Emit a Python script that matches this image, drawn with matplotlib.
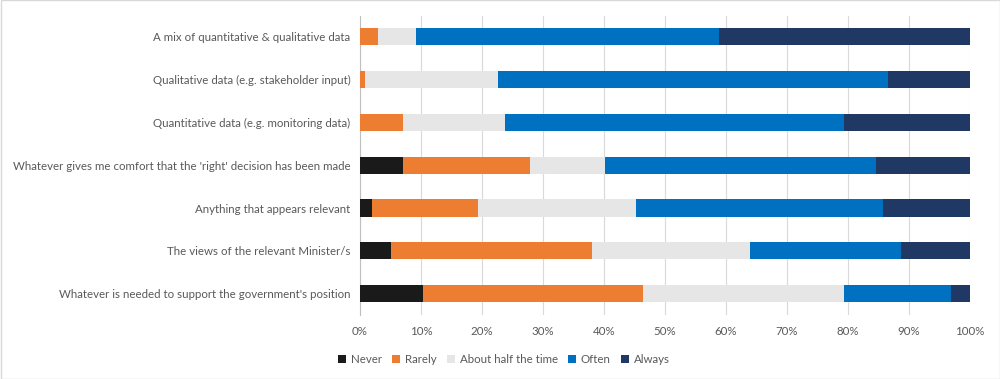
import numpy as np
import matplotlib
matplotlib.use("Agg")
from matplotlib import pyplot as plt
from matplotlib.patches import Rectangle

categories = [
    "A mix of quantitative & qualitative data",
    "Qualitative data (e.g. stakeholder input)",
    "Quantitative data (e.g. monitoring data)",
    "Whatever gives me comfort that the 'right' decision has been made",
    "Anything that appears relevant",
    "The views of the relevant Minister/s",
    "Whatever is needed to support the government's position",
]
series_names = ["Never", "Rarely", "About half the time", "Often", "Always"]

never = [0.0, 0.0, 0.0, 7.1, 1.9, 5.1, 10.3]
rarely = [3.0, 0.9, 7.1, 20.7, 17.5, 33.0, 36.1]
half = [6.2, 21.7, 16.6, 12.3, 25.9, 25.8, 33.0]
often = [49.6, 63.9, 55.7, 44.5, 40.4, 24.8, 17.5]
always = [41.2, 13.5, 20.6, 15.4, 14.3, 11.3, 3.1]

colors = ["#1a1a1a", "#ED7D31", "#E6E6E6", "#0070C0", "#203864"]

plt.rcParams['font.family'] = ['Lato', 'DejaVu Sans']

fig = plt.figure(figsize=(10, 3.79), dpi=100)
ax = fig.add_axes([0.36, 0.169, 0.61, 0.79])

y = np.arange(len(categories))
left = np.zeros(len(categories))
for name, vals, c in zip(series_names, [never, rarely, half, often, always], colors):
    vals = np.array(vals)
    ax.barh(y, vals, left=left, height=0.4, color=c, label=name, zorder=3)
    left += vals

ax.set_xlim(0, 100)
ax.set_ylim(len(categories) - 0.5, -0.5)
ax.set_yticks(y)
ax.set_yticklabels(categories)
ax.set_xticks(np.arange(0, 101, 10))
ax.set_xticklabels([f"{v}%" for v in range(0, 101, 10)])
ax.tick_params(axis='both', length=0, labelsize=8.3, colors="#595959", pad=8)
ax.tick_params(axis='y', pad=7)
ax.grid(axis='x', color="#d9d9d9", linewidth=0.8, zorder=0)
for s in ["top", "right", "bottom"]:
    ax.spines[s].set_visible(False)
ax.spines["left"].set_color("#bfbfbf")

fig.legend(loc="center", bbox_to_anchor=(0.504, 0.052), ncol=5, frameon=False,
           fontsize=8.3, labelcolor="#595959", handlelength=0.7, handleheight=0.7,
           handletextpad=0.4, columnspacing=0.9)

fig.add_artist(Rectangle((0.0005, 0.001), 0.999, 0.998, transform=fig.transFigure,
                         fill=False, edgecolor="#d9d9d9", linewidth=1))

fig.savefig("out.png", dpi=100)
